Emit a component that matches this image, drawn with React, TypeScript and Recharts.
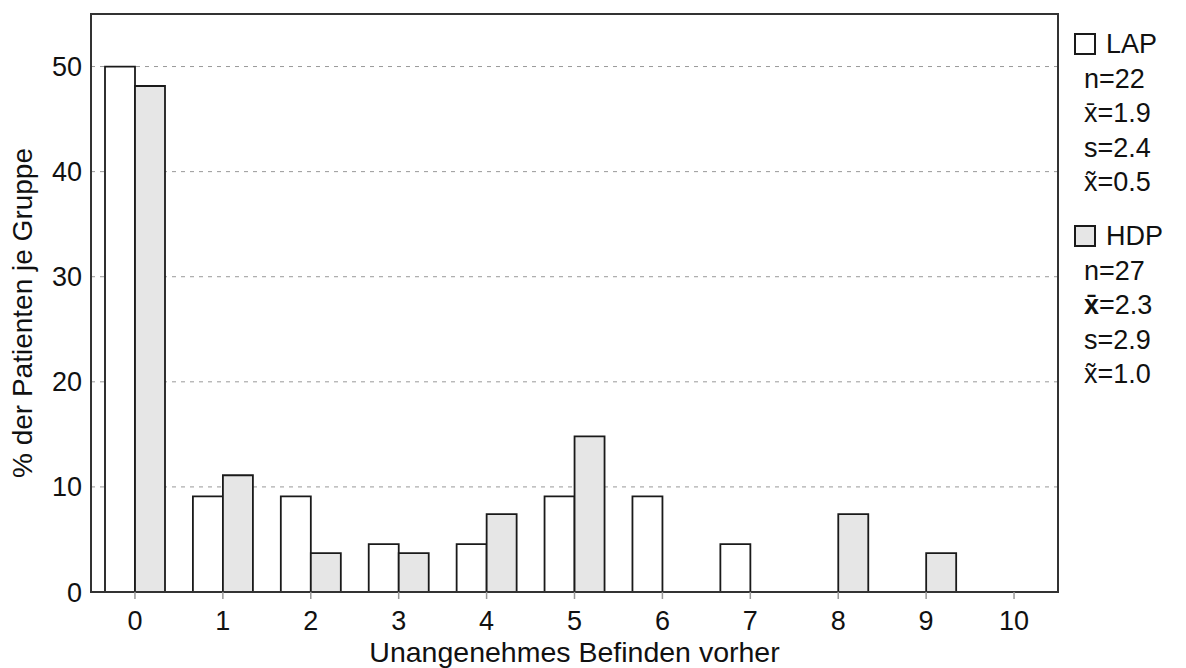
import React from 'react';
import {
  BarChart,
  Bar,
  XAxis,
  YAxis,
  CartesianGrid,
  Legend,
  ReferenceArea,
} from 'recharts';

// Score categories (0–10) and the share of patients per group, in percent
const categories = ['0', '1', '2', '3', '4', '5', '6', '7', '8', '9', '10'];
const lapPercent = [50.0, 9.09, 9.09, 4.55, 4.55, 9.09, 9.09, 4.55, 0, 0, 0];
const hdpPercent = [48.15, 11.11, 3.7, 3.7, 7.41, 14.81, 0, 0, 7.41, 3.7, 0];
const yTicks = [0, 10, 20, 30, 40, 50];
const yMax = 55;

// Group summaries shown beside the plot
const lapStats = ['n=22', '1.9', 's=2.4', '0.5'];
const hdpStats = ['n=27', '2.3', 's=2.9', '1.0'];

const FONT = '"Liberation Sans", Arial, Helvetica, sans-serif';
const AXIS = '#333';

const data = categories.map((c, i) => ({
  cat: c,
  LAP: lapPercent[i],
  HDP: hdpPercent[i],
}));

const MACRON = 'x\u0304';
const TILDE = 'x\u0303';

function StatBlock({
  name,
  fill,
  stats,
  boldMean,
}: {
  name: string;
  fill: string;
  stats: string[];
  boldMean?: boolean;
}) {
  const line: React.CSSProperties = { height: 34.5, lineHeight: '34.5px', paddingLeft: 10, whiteSpace: 'nowrap' };
  return (
    <div>
      <div style={{ height: 34.5, display: 'flex', alignItems: 'center', whiteSpace: 'nowrap' }}>
        <span
          style={{
            display: 'inline-block',
            width: 18,
            height: 18,
            border: '2px solid #1a1a1a',
            background: fill,
            marginRight: 10,
            flex: 'none',
          }}
        />
        <span>{name}</span>
      </div>
      <div style={line}>{stats[0]}</div>
      <div style={line}>
        <span style={{ fontWeight: boldMean ? 700 : 400 }}>{MACRON}</span>={stats[1]}
      </div>
      <div style={line}>{stats[2]}</div>
      <div style={line}>
        {TILDE}={stats[3]}
      </div>
    </div>
  );
}

function StatsLegend() {
  return (
    <div style={{ fontFamily: FONT, fontSize: 27, color: '#111', width: 110 }}>
      <StatBlock name="LAP" fill="#ffffff" stats={lapStats} />
      <div style={{ height: 19.5 }} />
      <StatBlock name="HDP" fill="#e6e6e6" stats={hdpStats} boldMean />
    </div>
  );
}

const YTitle = (props: any) => {
  const vb = props.viewBox || {};
  const x = (vb.x ?? 0) + 32;
  const y = (vb.y ?? 0) + vb.height / 2 + 10;
  return (
    <text
      x={x}
      y={y}
      transform={`rotate(-90, ${x}, ${y})`}
      textAnchor="middle"
      fontFamily={FONT}
      fontSize={28}
      fill="#111"
    >
      % der Patienten je Gruppe
    </text>
  );
};

const XTitle = (props: any) => {
  const vb = props.viewBox || {};
  const x = (vb.x ?? 0) + vb.width / 2;
  const y = (vb.y ?? 0) + 70;
  return (
    <text x={x} y={y} textAnchor="middle" fontFamily={FONT} fontSize={28.5} fill="#111">
      Unangenehmes Befinden vorher
    </text>
  );
};

export default function App() {
  return (
    <div style={{ position: 'absolute', left: 0, top: 0, width: 1186, height: 668, background: '#fff' }}>
      <BarChart
        width={1186}
        height={668}
        data={data}
        margin={{ top: 14, right: 18, bottom: 0, left: 0 }}
        barGap={0}
        barSize={30}
      >
        <CartesianGrid horizontal vertical={false} stroke="#999" strokeDasharray="4 5" />
        <XAxis
          dataKey="cat"
          height={76}
          interval={0}
          tickSize={7}
          tickMargin={12}
          tickLine={{ stroke: '#999', strokeWidth: 1.5 }}
          axisLine={{ stroke: AXIS, strokeWidth: 2 }}
          tick={{ fill: '#111', fontSize: 27, fontFamily: FONT }}
          label={<XTitle />}
        />
        <YAxis
          width={91}
          domain={[0, yMax]}
          ticks={yTicks}
          allowDataOverflow
          tickSize={0}
          tickMargin={9}
          tickLine={false}
          axisLine={{ stroke: AXIS, strokeWidth: 2 }}
          tick={{ fill: '#111', fontSize: 27, fontFamily: FONT }}
          label={<YTitle />}
        />
        <Legend
          layout="vertical"
          align="right"
          verticalAlign="top"
          content={<StatsLegend />}
          wrapperStyle={{ left: 1074, top: 27, width: 110 }}
        />
        <Bar dataKey="LAP" fill="#ffffff" stroke="#1a1a1a" strokeWidth={1.8} isAnimationActive={false} />
        <Bar dataKey="HDP" fill="#e6e6e6" stroke="#1a1a1a" strokeWidth={1.8} isAnimationActive={false} />
        {/* plot frame */}
        <ReferenceArea
          x1={categories[0]}
          x2={categories[categories.length - 1]}
          y1={0}
          y2={yMax}
          fill="none"
          fillOpacity={0}
          stroke={AXIS}
          strokeWidth={2}
          ifOverflow="visible"
        />
      </BarChart>
    </div>
  );
}
